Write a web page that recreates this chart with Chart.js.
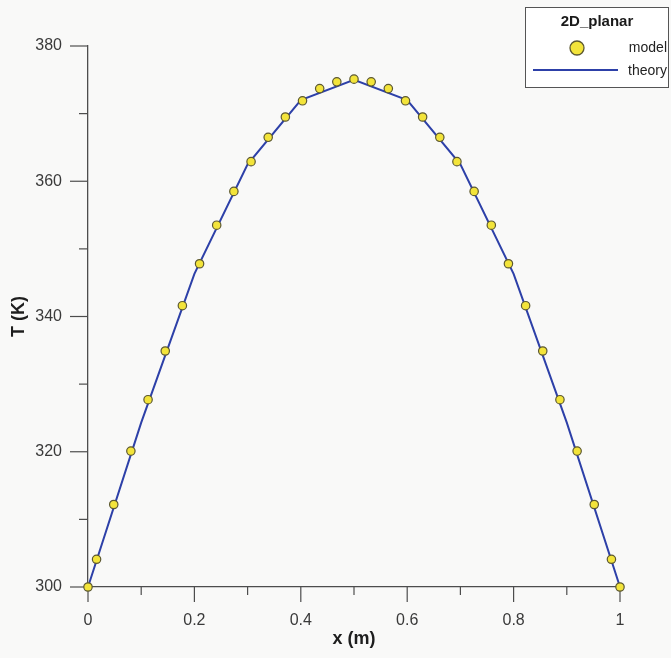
<!DOCTYPE html>
<html lang="es">
<head>
<meta charset="UTF-8">
<title>2D_planar</title>
<script src="https://cdn.jsdelivr.net/npm/chart.js@4.4.1/dist/chart.umd.min.js"></script>
<style>
    html, body { margin: 0; padding: 0; background: #f9f9f8; }
    #grafico { display: block; }
</style>
</head>
<body>
<canvas id="grafico" width="671" height="658"></canvas>
<script>
// ============================
// DATOS
// ============================

// puntos del modelo (centros de celda + bordes)
const xModel = [0, 0.0161, 0.0484, 0.0806, 0.1129, 0.1452, 0.1774, 0.2097, 0.2419, 0.2742,
                0.3065, 0.3387, 0.3710, 0.4032, 0.4355, 0.4677, 0.5, 0.5323, 0.5645, 0.5968,
                0.6290, 0.6613, 0.6935, 0.7258, 0.7581, 0.7903, 0.8226, 0.8548, 0.8871, 0.9194,
                0.9516, 0.9839, 1];
const tModel = [300, 304.1, 312.2, 320.1, 327.7, 334.9, 341.6, 347.8, 353.5, 358.5,
                362.9, 366.5, 369.5, 371.9, 373.7, 374.7, 375.1, 374.7, 373.7, 371.9,
                369.5, 366.5, 362.9, 358.5, 353.5, 347.8, 341.6, 334.9, 327.7, 320.1,
                312.2, 304.1, 300];

// curva teorica (vertices de la linea)
const xTheory = [0, 0.1, 0.2, 0.3, 0.4, 0.5, 0.6, 0.7, 0.8, 0.9, 1];
const tTheory = [300, 324.3, 346.3, 362.5, 372, 375, 372, 362.5, 346.3, 324.3, 300];

// etiquetas de ejes
const xTickLabels = ['0', '0.2', '0.4', '0.6', '0.8', '1'];
const yTickLabels = ['300', '320', '340', '360', '380'];
const tituloLeyenda = '2D_planar';

// ============================
// ESTILO
// ============================

const FUENTE = '"Liberation Sans", Arial, sans-serif';
const COLOR_EJE = '#4d4d4d';
Chart.defaults.font.family = FUENTE;

// ============================
// PLUGINS
// ============================

// fondo gris claro tipo escaneo
const fondo = {
    id: 'fondo',
    beforeDraw(chart) {
        const c = chart.ctx;
        c.save();
        c.fillStyle = '#f9f9f8';
        c.fillRect(0, 0, chart.width, chart.height);
        c.restore();
    }
};

// marcas mayores y menores hacia afuera
const marcas = {
    id: 'marcas',
    beforeDatasetsDraw(chart) {
        const { ctx, scales: { x, y }, chartArea } = chart;
        ctx.save();
        ctx.strokeStyle = COLOR_EJE;
        ctx.lineWidth = 1.2;

        x.ticks.forEach(t => {
            const px = x.getPixelForValue(t.value);
            const len = t.label ? 15 : 8;
            ctx.beginPath();
            ctx.moveTo(px, chartArea.bottom);
            ctx.lineTo(px, chartArea.bottom + len);
            ctx.stroke();
        });

        y.ticks.forEach(t => {
            const py = y.getPixelForValue(t.value);
            const len = t.label ? 18 : 9;
            ctx.beginPath();
            ctx.moveTo(chartArea.left, py);
            ctx.lineTo(chartArea.left - len, py);
            ctx.stroke();
        });
        ctx.restore();
    }
};

// leyenda en recuadro arriba a la derecha
const leyenda = {
    id: 'leyenda',
    afterDraw(chart) {
        const ctx = chart.ctx;
        const [model, theory] = chart.data.datasets;
        ctx.save();

        ctx.fillStyle = '#ffffff';
        ctx.fillRect(525.5, 7.5, 143, 80);
        ctx.strokeStyle = '#555555';
        ctx.lineWidth = 1;
        ctx.strokeRect(525.5, 7.5, 143, 80);

        ctx.fillStyle = '#1a1a1a';
        ctx.font = 'bold 15px ' + FUENTE;
        ctx.textAlign = 'center';
        ctx.textBaseline = 'middle';
        ctx.fillText(tituloLeyenda, 597, 22);

        // marcador del modelo
        ctx.beginPath();
        ctx.arc(577, 48, 7, 0, Math.PI * 2);
        ctx.fillStyle = model.backgroundColor;
        ctx.fill();
        ctx.strokeStyle = model.borderColor;
        ctx.lineWidth = 1.3;
        ctx.stroke();

        // linea de la teoria
        ctx.beginPath();
        ctx.moveTo(533, 70);
        ctx.lineTo(618, 70);
        ctx.strokeStyle = theory.borderColor;
        ctx.lineWidth = 2;
        ctx.stroke();

        ctx.fillStyle = '#222222';
        ctx.font = '14px ' + FUENTE;
        ctx.textAlign = 'right';
        ctx.fillText(model.label, 667, 48);
        ctx.fillText(theory.label, 667, 71);

        ctx.restore();
    }
};

// ============================
// GRAFICO
// ============================

const ctx = document.getElementById('grafico').getContext('2d');

const grafico = new Chart(ctx, {
    type: 'scatter',
    data: {
        datasets: [
            {
                label: 'model',
                data: xModel.map((x, i) => ({ x, y: tModel[i] })),
                backgroundColor: '#f3e43a',
                borderColor: '#5c5830',
                borderWidth: 1.2,
                pointRadius: 4.2,
                pointHoverRadius: 4.2,
                showLine: false,
                clip: false,
                order: 0
            },
            {
                label: 'theory',
                data: xTheory.map((x, i) => ({ x, y: tTheory[i] })),
                borderColor: '#2d40a8',
                borderWidth: 2,
                pointRadius: 0,
                showLine: true,
                tension: 0,
                clip: false,
                order: 1
            }
        ]
    },
    options: {
        responsive: false,
        animation: false,
        events: [],
        layout: { padding: { top: 46, right: 51, left: 0, bottom: 0 } },
        plugins: {
            legend: { display: false },
            tooltip: { enabled: false }
        },
        scales: {
            x: {
                type: 'linear',
                min: 0,
                max: 1,
                grid: { display: false },
                border: { display: true, color: COLOR_EJE, width: 1.3 },
                ticks: {
                    stepSize: 0.1,
                    autoSkip: false,
                    maxRotation: 0,
                    padding: 16,
                    color: '#3a3a3a',
                    font: { size: 16 },
                    callback: value => {
                        const s = String(Math.round(value * 10) / 10);
                        return xTickLabels.includes(s) ? s : '';
                    }
                },
                title: {
                    display: true,
                    text: 'x (m)',
                    color: '#1e1e1e',
                    font: { size: 18, weight: 'bold' },
                    padding: { top: 0, bottom: 8 }
                },
                afterFit: s => { s.height = 71; }
            },
            y: {
                type: 'linear',
                min: 300,
                max: 380,
                grid: { display: false },
                border: { display: true, color: COLOR_EJE, width: 1.3 },
                ticks: {
                    stepSize: 10,
                    autoSkip: false,
                    padding: 18,
                    color: '#3a3a3a',
                    font: { size: 16 },
                    callback: value => {
                        const s = String(Math.round(value));
                        return yTickLabels.includes(s) ? s : '';
                    }
                },
                title: {
                    display: true,
                    text: 'T (K)',
                    color: '#1e1e1e',
                    font: { size: 18, weight: 'bold' },
                    padding: { top: 8, bottom: 0 }
                },
                afterFit: s => { s.width = 88; }
            }
        }
    },
    plugins: [fondo, marcas, leyenda]
});
</script>
</body>
</html>
